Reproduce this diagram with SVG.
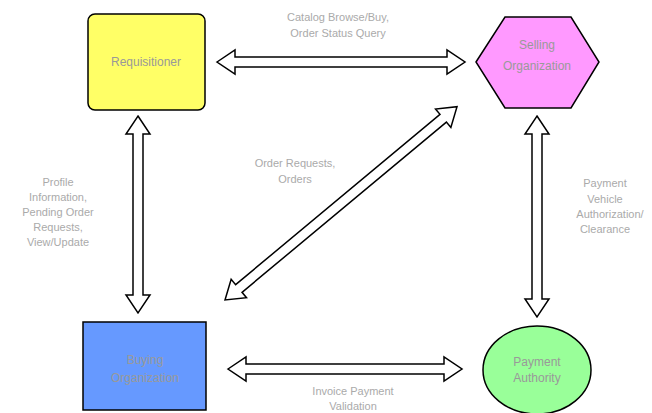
<svg xmlns="http://www.w3.org/2000/svg" width="652" height="413" viewBox="0 0 652 413">
<style>
.node{stroke:#000;stroke-width:1.5}
.arr{fill:#fff;stroke:#000;stroke-width:1.5;stroke-linejoin:miter}
.nt{font-family:"Liberation Sans",Arial,sans-serif;font-size:12px;fill:#999;text-anchor:middle}
.lt{font-family:"Liberation Sans",Arial,sans-serif;font-size:11px;fill:#aaa;text-anchor:middle}
</style>
<rect width="652" height="413" fill="#fff"/>
<g id="connectors">
<polygon class="arr" points="217,62 235,50 235,57 447,57 447,50 465,62 447,74 447,67 235,67 235,74"/>
<polygon class="arr" points="228,369 246,357 246,364 444,364 444,357 462,369 444,381 444,374 246,374 246,381"/>
<polygon class="arr" points="138,116 150,134 143,134 143,295 150,295 138,313 126,295 133,295 133,134 126,134"/>
<polygon class="arr" points="537,116 549,134 542,134 542,299 549,299 537,317 525,299 532,299 532,134 525,134"/>
<polygon class="arr" transform="translate(225,300) rotate(-39.8)" points="0,0 18,-12 18,-5 284,-5 284,-12 302,0 284,12 284,5 18,5 18,12"/>
<text class="lt" x="338" y="21">Catalog Browse/Buy,</text>
<text class="lt" x="338" y="37">Order Status Query</text>
<text class="lt" x="58" y="186">Profile</text>
<text class="lt" x="58" y="201">Information,</text>
<text class="lt" x="58" y="216">Pending Order</text>
<text class="lt" x="58" y="231">Requests,</text>
<text class="lt" x="58" y="246">View/Update</text>
<text class="lt" x="295" y="167">Order Requests,</text>
<text class="lt" x="295" y="183">Orders</text>
<text class="lt" x="605" y="187">Payment</text>
<text class="lt" x="605" y="203">Vehicle</text>
<text class="lt" x="610" y="218">Authorization/</text>
<text class="lt" x="605" y="233">Clearance</text>
<text class="lt" x="353" y="395">Invoice Payment</text>
<text class="lt" x="353" y="410">Validation</text>
</g>
<g id="requisitioner">
<rect class="node" x="88" y="14" width="117" height="96" rx="7" fill="#ffff66"/>
<text class="nt" x="146" y="66">Requisitioner</text>
</g>
<g id="selling">
<polygon class="node" points="476,62 505,17 571,17 599,62 571,108 505,108" fill="#ff99ff"/>
<text class="nt" x="537" y="49">Selling</text>
<text class="nt" x="537" y="70">Organization</text>
</g>
<g id="buying">
<rect class="node" x="83" y="322" width="123" height="88" fill="#6699ff"/>
<text class="nt" x="145" y="364">Buying</text>
<text class="nt" x="145" y="382">Organization</text>
</g>
<g id="payment">
<ellipse class="node" cx="537" cy="370" rx="54" ry="44" fill="#99ff99"/>
<text class="nt" x="537" y="366">Payment</text>
<text class="nt" x="537" y="382">Authority</text>
</g>
</svg>
